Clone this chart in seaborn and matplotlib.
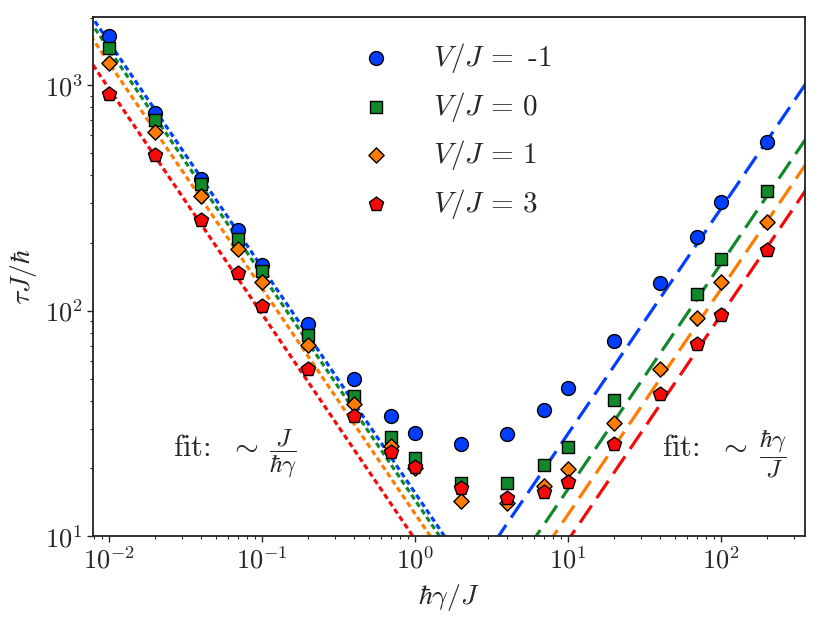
import numpy as np
import pandas as pd
import matplotlib
matplotlib.use("Agg")
import matplotlib.pyplot as plt
from matplotlib.ticker import LogLocator, FuncFormatter
import seaborn as sns

# decay rate values (hbar*gamma/J)
gamma = [0.01, 0.02, 0.04, 0.07, 0.1, 0.2, 0.4, 0.7, 1, 2, 4, 7, 10, 20, 40, 70, 100, 200]

# tau*J/hbar for each V/J
tau_vm1 = [1650, 752, 386, 229, 160, 87.5, 49.9, 34.1, 28.7, 25.7, 28.4, 36.3, 45.5, 73.6, 133, 212, 305, 560]
tau_v0 = [1472, 705, 365, 208, 151, 78, 41.9, 27.5, 22.3, 17.2, 17.2, 20.8, 24.9, 40.1, np.nan, 119.4, 170.6, 339]
tau_v1 = [1256, 620, 324, 188, 134, 70.5, 38.5, 25.1, 20.0, 14.4, 14.1, 16.8, 19.8, 31.9, 55, 93.3, 134, 247]
tau_v3 = [918, 489, 253, 147, 105, 55.5, 34.1, 23.7, 20.3, 16.4, 14.8, 15.7, 17.4, 25.6, 42.7, 71.1, 96, 187]

labels = [r"$V/J\,=$ -1", r"$V/J\,=\,0$", r"$V/J\,=\,1$", r"$V/J\,=\,3$"]
series = [tau_vm1, tau_v0, tau_v1, tau_v3]
markers = ["o", "s", "D", "p"]
colors = ["#023eff", "#12882a", "#ff7c00", "#f50a0a"]
sizes = [100, 75, 60, 115]

# fit coefficients: tau ~ A * J/(hbar gamma) at small gamma, tau ~ B * hbar gamma/J at large gamma
fit_small = [15.6, 14.5, 12.6, 9.7]
fit_large = [2.85, 1.62, 1.25, 0.96]
small_range = [0.005, 3.0]
large_range = [2.0, 500.0]

sns.set_style("ticks")
plt.rcParams["font.family"] = ["serif"]
plt.rcParams["font.serif"] = ["cmr10", "DejaVu Serif"]
plt.rcParams["mathtext.fontset"] = "cm"
plt.rcParams["axes.formatter.use_mathtext"] = True
plt.rcParams["axes.unicode_minus"] = False

fig = plt.figure(figsize=(8.22, 6.2), dpi=100)
ax = fig.add_axes([0.113, 0.135, 0.866, 0.837])

for a, b, c in zip(fit_small, fit_large, colors):
    xs = np.array(small_range)
    sns.lineplot(x=xs, y=a / xs, ax=ax, color=c, lw=2.3,
                 linestyle=(0, (1.7, 1.1)), zorder=1)
    xl = np.array(large_range)
    sns.lineplot(x=xl, y=b * xl, ax=ax, color=c, lw=2.3,
                 linestyle=(0, (6.5, 2.8)), zorder=1)

for y, lab, m, c, s in zip(series, labels, markers, colors, sizes):
    df = pd.DataFrame({"gamma": gamma, "tau": y}).dropna()
    sns.scatterplot(data=df, x="gamma", y="tau", ax=ax, marker=m, color=c,
                    s=s, edgecolor="black", linewidth=1.0, label=lab, zorder=3)

ax.set_xscale("log")
ax.set_yscale("log")
ax.set_xlim(0.00786, 352)
ax.set_ylim(10, 2005)

fmt = FuncFormatter(lambda v, p: r"$10^{%d}$" % round(np.log10(v)))
ax.xaxis.set_major_formatter(fmt)
ax.yaxis.set_major_formatter(fmt)
ax.xaxis.set_major_locator(LogLocator(base=10, numticks=10))
ax.tick_params(axis="both", which="major", labelsize=19, length=4, width=1)
ax.tick_params(axis="both", which="minor", length=2.5, width=0.8)
for sp in ax.spines.values():
    sp.set_linewidth(1.3)
    sp.set_color("#222222")

ax.set_xlabel(r"$\hbar\gamma/J$", fontsize=20, labelpad=6)
ax.set_ylabel(r"$\tau J/\hbar$", fontsize=20, labelpad=4)

# fit annotations: "fit: ~" followed by a fraction
for xpos, frac in [(0.112, r"$\dfrac{J}{\hbar\gamma}$"),
                   (0.800, r"$\dfrac{\hbar\gamma}{J}$")]:
    t = ax.text(xpos, 0.155, r"fit: $\;\sim$", transform=ax.transAxes,
                fontsize=22, va="baseline", ha="left")
    ax.annotate(frac, xy=(1, 0.5), xycoords=t, xytext=(8, -4),
                textcoords="offset points", fontsize=18, va="center", ha="left")

leg = ax.legend(loc="upper left", bbox_to_anchor=(0.34, 0.977), frameon=False,
                fontsize=21, handletextpad=0.95, labelspacing=0.5,
                borderaxespad=0)

fig.savefig("out.png", dpi=100)
